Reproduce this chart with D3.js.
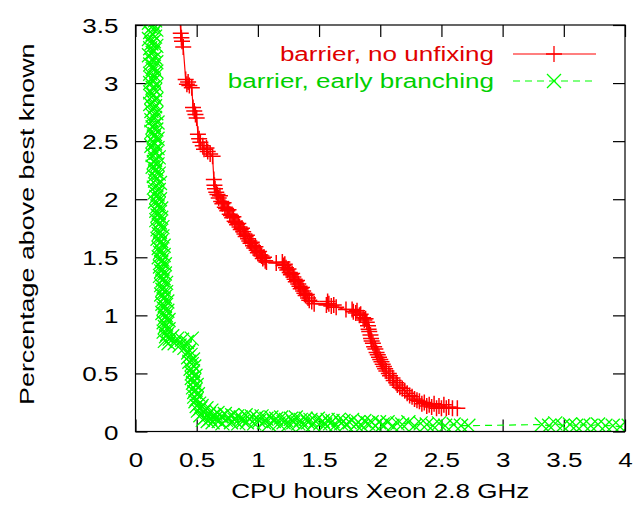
<!DOCTYPE html>
<html>
<head>
<meta charset="utf-8">
<script src="https://cdn.jsdelivr.net/npm/d3@7"></script>
<style>
  body { margin: 0; background: #fff; }
  text { font-family: "Liberation Sans", Arial, sans-serif; }
</style>
</head>
<body>
<div id="chart"></div>
<script>
// Chart data
const xTicks = [0, 0.5, 1, 1.5, 2, 2.5, 3, 3.5, 4];
const yTicks = [0, 0.5, 1, 1.5, 2, 2.5, 3, 3.5];
const seriesNames = ["barrier, no unfixing", "barrier, early branching"];
const seriesColors = ["#ff0000", "#00ff00"];

// barrier, no unfixing
const redX = [0.36, 0.37, 0.375, 0.38, 0.39, 0.41, 0.42, 0.43, 0.44, 0.46,
  0.47, 0.48, 0.49, 0.50, 0.51, 0.52, 0.53, 0.55, 0.56, 0.58,
  0.59, 0.61, 0.63, 0.64, 0.645, 0.65, 0.66, 0.67, 0.68, 0.69,
  0.70, 0.71, 0.72, 0.73, 0.74, 0.75, 0.76, 0.77, 0.78, 0.79,
  0.80, 0.81, 0.82, 0.83, 0.84, 0.85, 0.86, 0.87, 0.88, 0.89,
  0.90, 0.91, 0.92, 0.93, 0.94, 0.95, 0.96, 0.97, 0.98, 0.99,
  1.00, 1.01, 1.02, 1.03, 1.04, 1.05, 1.06, 1.07, 1.15, 1.20,
  1.21, 1.22, 1.23, 1.24, 1.25, 1.26, 1.27, 1.28, 1.29, 1.30,
  1.31, 1.32, 1.33, 1.34, 1.35, 1.36, 1.37, 1.38, 1.39, 1.40,
  1.41, 1.42, 1.44, 1.46, 1.56, 1.57, 1.58, 1.60, 1.62, 1.64,
  1.72, 1.77, 1.78, 1.80, 1.81, 1.83, 1.84, 1.86, 1.87, 1.88,
  1.89, 1.90, 1.905, 1.91, 1.92, 1.925, 1.93, 1.94, 1.95, 1.96,
  1.97, 1.98, 1.99, 2.00, 2.01, 2.02, 2.03, 2.04, 2.05, 2.07,
  2.08, 2.10, 2.11, 2.13, 2.14, 2.16, 2.18, 2.20, 2.22, 2.24,
  2.26, 2.28, 2.30, 2.32, 2.34, 2.36, 2.38, 2.40, 2.42, 2.44,
  2.46, 2.48, 2.50, 2.52, 2.54, 2.56, 2.59, 2.63];
const redY = [3.60, 3.43, 3.39, 3.36, 3.31, 3.03, 2.99, 3.01, 2.98, 2.96,
  2.79, 2.76, 2.73, 2.70, 2.56, 2.52, 2.49, 2.46, 2.43, 2.44,
  2.41, 2.39, 2.37, 2.17, 2.12, 2.09, 2.06, 2.04, 2.01, 2.03,
  1.98, 1.96, 1.97, 1.93, 1.92, 1.90, 1.91, 1.87, 1.86, 1.84,
  1.85, 1.81, 1.80, 1.78, 1.79, 1.76, 1.74, 1.75, 1.72, 1.70,
  1.68, 1.69, 1.66, 1.64, 1.62, 1.63, 1.60, 1.58, 1.59, 1.56,
  1.54, 1.55, 1.52, 1.51, 1.49, 1.50, 1.47, 1.46, 1.45, 1.46,
  1.43, 1.44, 1.41, 1.39, 1.40, 1.37, 1.35, 1.36, 1.33, 1.31,
  1.29, 1.30, 1.27, 1.25, 1.23, 1.24, 1.21, 1.19, 1.17, 1.18,
  1.15, 1.13, 1.12, 1.10, 1.09, 1.12, 1.10, 1.08, 1.09, 1.07,
  1.05, 1.05, 1.03, 1.02, 1.04, 1.00, 1.01, 0.98, 0.96, 0.97,
  0.94, 0.91, 0.88, 0.86, 0.83, 0.80, 0.78, 0.76, 0.73, 0.71,
  0.68, 0.66, 0.64, 0.62, 0.60, 0.58, 0.56, 0.54, 0.52, 0.50,
  0.48, 0.46, 0.44, 0.42, 0.40, 0.38, 0.37, 0.35, 0.33, 0.31,
  0.30, 0.28, 0.27, 0.26, 0.24, 0.25, 0.22, 0.23, 0.21, 0.24,
  0.20, 0.22, 0.20, 0.23, 0.20, 0.21, 0.20, 0.20];

// barrier, early branching
const greenX = [0.12, 0.16, 0.11, 0.15, 0.13, 0.17, 0.12, 0.14, 0.16, 0.11,
  0.15, 0.13, 0.17, 0.12, 0.15, 0.14, 0.11, 0.16, 0.13, 0.17,
  0.12, 0.15, 0.14, 0.17, 0.12, 0.16, 0.13, 0.15, 0.12, 0.17,
  0.14, 0.16, 0.12, 0.15, 0.13, 0.17, 0.14, 0.12, 0.16, 0.15,
  0.13, 0.17, 0.14, 0.16, 0.13, 0.18, 0.15, 0.14, 0.17, 0.13,
  0.16, 0.15, 0.18, 0.14, 0.16, 0.13, 0.18, 0.15, 0.17, 0.14,
  0.19, 0.16, 0.15, 0.18, 0.14, 0.17, 0.16, 0.19, 0.15, 0.18,
  0.16, 0.20, 0.17, 0.15, 0.19, 0.16, 0.18, 0.17, 0.20, 0.16,
  0.19, 0.18, 0.21, 0.17, 0.19, 0.18, 0.21, 0.17, 0.20, 0.19,
  0.22, 0.18, 0.20, 0.19, 0.22, 0.18, 0.21, 0.20, 0.23, 0.19,
  0.21, 0.20, 0.23, 0.19, 0.22, 0.21, 0.24, 0.20, 0.22, 0.21,
  0.24, 0.20, 0.23, 0.22, 0.25, 0.21, 0.23, 0.22, 0.25, 0.21,
  0.24, 0.23, 0.26, 0.22, 0.24, 0.23, 0.26, 0.22, 0.25, 0.24,
  0.27, 0.23, 0.25, 0.24, 0.27, 0.23, 0.26, 0.25, 0.28, 0.24,
  0.27,
  0.30, 0.32, 0.34, 0.36, 0.38, 0.40, 0.42, 0.44, 0.46, 0.43,
  0.45, 0.43, 0.47, 0.44, 0.46, 0.48, 0.45, 0.47, 0.46, 0.49,
  0.46, 0.48, 0.47, 0.50, 0.47, 0.49, 0.48, 0.51, 0.48, 0.50,
  0.49, 0.52, 0.50, 0.53, 0.51,
  0.53, 0.54, 0.55, 0.56, 0.57, 0.58, 0.59, 0.60, 0.61, 0.62,
  0.63, 0.64, 0.65, 0.67, 0.68, 0.70, 0.71, 0.73, 0.74, 0.76,
  0.78, 0.79, 0.81, 0.83, 0.84, 0.86, 0.88, 0.90, 0.91, 0.93,
  0.95, 0.97, 0.99, 1.01, 1.03, 1.05, 1.07, 1.09, 1.11, 1.13,
  1.15, 1.17, 1.19, 1.21, 1.23, 1.25, 1.27, 1.29, 1.31, 1.33,
  1.35, 1.37, 1.39, 1.41, 1.43, 1.45, 1.47, 1.49, 1.51, 1.53,
  1.55, 1.57, 1.59, 1.61, 1.63, 1.66, 1.68, 1.70, 1.72, 1.75,
  1.77, 1.80, 1.82, 1.85, 1.87, 1.90, 1.93, 1.96, 1.99, 2.02,
  2.06, 2.10, 2.14, 2.18, 2.23, 2.28, 2.33, 2.38, 2.43, 2.48,
  2.53, 2.60, 2.66, 2.72,
  3.32, 3.38, 3.43, 3.49, 3.55, 3.60, 3.66, 3.72, 3.78, 3.84,
  3.90, 3.96, 4.03];
const greenY = [3.56, 3.54, 3.52, 3.50, 3.48, 3.46, 3.44, 3.42, 3.40, 3.38,
  3.36, 3.34, 3.32, 3.30, 3.28, 3.26, 3.24, 3.22, 3.20, 3.18,
  3.16, 3.14, 3.12, 3.10, 3.08, 3.06, 3.04, 3.02, 3.00, 2.98,
  2.96, 2.94, 2.92, 2.90, 2.88, 2.86, 2.84, 2.82, 2.80, 2.78,
  2.76, 2.74, 2.72, 2.70, 2.68, 2.66, 2.64, 2.62, 2.60, 2.58,
  2.56, 2.54, 2.52, 2.50, 2.48, 2.46, 2.44, 2.42, 2.40, 2.38,
  2.36, 2.34, 2.32, 2.30, 2.28, 2.26, 2.24, 2.22, 2.20, 2.18,
  2.16, 2.14, 2.12, 2.10, 2.08, 2.06, 2.04, 2.02, 2.00, 1.98,
  1.96, 1.94, 1.92, 1.90, 1.88, 1.86, 1.84, 1.82, 1.80, 1.78,
  1.76, 1.74, 1.72, 1.70, 1.68, 1.66, 1.64, 1.62, 1.60, 1.58,
  1.56, 1.54, 1.52, 1.50, 1.48, 1.46, 1.44, 1.42, 1.40, 1.38,
  1.36, 1.34, 1.32, 1.30, 1.28, 1.26, 1.24, 1.22, 1.20, 1.18,
  1.16, 1.14, 1.12, 1.10, 1.08, 1.06, 1.04, 1.02, 1.00, 0.98,
  0.96, 0.94, 0.92, 0.90, 0.88, 0.86, 0.84, 0.82, 0.80, 0.78,
  0.76,
  0.82, 0.76, 0.80, 0.74, 0.79, 0.72, 0.77, 0.70, 0.80, 0.68,
  0.66, 0.64, 0.62, 0.60, 0.58, 0.56, 0.54, 0.52, 0.50, 0.48,
  0.46, 0.44, 0.42, 0.40, 0.38, 0.36, 0.34, 0.32, 0.30, 0.28,
  0.26, 0.24, 0.22, 0.20, 0.18,
  0.14, 0.22, 0.10, 0.17, 0.12, 0.20, 0.09, 0.15, 0.11, 0.18,
  0.08, 0.14, 0.11, 0.16, 0.09, 0.13, 0.07, 0.15, 0.10, 0.12,
  0.08, 0.14, 0.10, 0.13, 0.07, 0.12, 0.09, 0.14, 0.08, 0.11,
  0.13, 0.07, 0.12, 0.09, 0.13, 0.08, 0.11, 0.06, 0.12, 0.09,
  0.11, 0.07, 0.12, 0.08, 0.10, 0.06, 0.11, 0.08, 0.12, 0.07,
  0.10, 0.06, 0.11, 0.08, 0.10, 0.06, 0.09, 0.11, 0.07, 0.09,
  0.06, 0.10, 0.07, 0.09, 0.05, 0.10, 0.07, 0.09, 0.06, 0.08,
  0.10, 0.06, 0.08, 0.05, 0.09, 0.07, 0.08, 0.05, 0.08, 0.06,
  0.08, 0.05, 0.07, 0.06, 0.08, 0.05, 0.07, 0.06, 0.05, 0.07,
  0.05, 0.06, 0.05, 0.05,
  0.06, 0.05, 0.07, 0.05, 0.06, 0.05, 0.06, 0.05, 0.06, 0.05,
  0.05, 0.04, 0.05];

const width = 638;
const height = 508;
const plot = { left: 135.5, right: 625, top: 25, bottom: 431.5 };
const stretch = 1.24; // the original font is drawn wide

const svg = d3.select("#chart")
  .append("svg")
  .attr("width", width)
  .attr("height", height);

const x = d3.scaleLinear().domain([0, 4]).range([plot.left, plot.right]);
const y = d3.scaleLinear().domain([0, 3.5]).range([plot.bottom, plot.top]);

// Axes with inward ticks on all four sides
const tickLen = 12;
const fmt = d => d3.format("")(d);

const xAxis = svg.append("g")
  .attr("transform", `translate(0,${plot.bottom})`)
  .call(d3.axisBottom(x).tickValues(xTicks).tickSizeInner(-tickLen).tickSizeOuter(0).tickFormat(fmt));
xAxis.selectAll("text")
  .attr("y", null).attr("dy", null)
  .attr("transform", `translate(0,35) scale(${stretch},1)`);

const yAxis = svg.append("g")
  .attr("transform", `translate(${plot.left},0)`)
  .call(d3.axisLeft(y).tickValues(yTicks).tickSizeInner(-tickLen).tickSizeOuter(0).tickFormat(fmt));
yAxis.selectAll("text")
  .attr("x", null).attr("dy", null)
  .attr("transform", `translate(-17,7.5) scale(${stretch},1)`);

svg.append("g")
  .attr("transform", `translate(0,${plot.top})`)
  .call(d3.axisTop(x).tickValues(xTicks).tickSizeInner(-tickLen).tickSizeOuter(0).tickFormat(""));
svg.append("g")
  .attr("transform", `translate(${plot.right},0)`)
  .call(d3.axisRight(y).tickValues(yTicks).tickSizeInner(-tickLen).tickSizeOuter(0).tickFormat(""));

svg.selectAll(".domain").remove();
svg.selectAll(".tick line").attr("stroke", "#000").attr("stroke-width", 1.2);
svg.selectAll(".tick text")
  .attr("font-size", 21)
  .attr("font-family", "'Liberation Sans', Arial, sans-serif")
  .attr("fill", "#000");

// Axis titles
svg.append("text")
  .attr("transform", `translate(${(plot.left + plot.right) / 2},498) scale(${stretch},1)`)
  .attr("text-anchor", "middle")
  .attr("font-size", 21)
  .text("CPU hours Xeon 2.8 GHz");

svg.append("text")
  .attr("transform", `translate(34,${(plot.top + plot.bottom) / 2 - 4}) rotate(-90) scale(1.28,1)`)
  .attr("text-anchor", "middle")
  .attr("font-size", 21)
  .text("Percentage above best known");

// Clip the data to the plot frame
svg.append("clipPath")
  .attr("id", "clip")
  .append("rect")
  .attr("x", plot.left).attr("y", plot.top)
  .attr("width", plot.right - plot.left)
  .attr("height", plot.bottom - plot.top);

const plusPath = "M-8,0H8M0,-8V8";
const crossPath = "M-7,-7L7,7M-7,7L7,-7";

const redData = redX.map((d, i) => [d, redY[i]]);
const greenData = greenX.map((d, i) => [d, greenY[i]]);
const line = d3.line().x(d => x(d[0])).y(d => y(d[1]));

const marks = svg.append("g").attr("clip-path", "url(#clip)");

marks.append("path")
  .datum(greenData)
  .attr("d", line)
  .attr("fill", "none")
  .attr("stroke", seriesColors[1])
  .attr("stroke-width", 1.2)
  .attr("stroke-dasharray", "7,5");

marks.append("g")
  .selectAll("path")
  .data(greenData)
  .enter().append("path")
  .attr("transform", d => `translate(${x(d[0])},${y(d[1])})`)
  .attr("d", crossPath)
  .attr("stroke", seriesColors[1])
  .attr("stroke-width", 1.3);

marks.append("path")
  .datum(redData)
  .attr("d", line)
  .attr("fill", "none")
  .attr("stroke", seriesColors[0])
  .attr("stroke-width", 1.2);

marks.append("g")
  .selectAll("path")
  .data(redData)
  .enter().append("path")
  .attr("transform", d => `translate(${x(d[0])},${y(d[1])})`)
  .attr("d", plusPath)
  .attr("stroke", seriesColors[0])
  .attr("stroke-width", 1.5);

// Frame
svg.append("rect")
  .attr("x", plot.left).attr("y", plot.top)
  .attr("width", plot.right - plot.left)
  .attr("height", plot.bottom - plot.top)
  .attr("fill", "none")
  .attr("stroke", "#000")
  .attr("stroke-width", 1.2);

// Legend
const legendRows = [54, 81];
const legend = svg.append("g");
seriesNames.forEach((name, i) => {
  const ly = legendRows[i];
  legend.append("text")
    .attr("transform", `translate(494,${ly + 7}) scale(${stretch},1)`)
    .attr("text-anchor", "end")
    .attr("font-size", 21)
    .attr("fill", i === 0 ? "#e00000" : "#00d000")
    .text(name);
  legend.append("line")
    .attr("x1", 513).attr("x2", 596)
    .attr("y1", ly).attr("y2", ly)
    .attr("stroke", seriesColors[i])
    .attr("stroke-width", 1.2)
    .attr("stroke-dasharray", i === 0 ? null : "7,5");
  legend.append("path")
    .attr("transform", `translate(554,${ly})`)
    .attr("d", i === 0 ? plusPath : crossPath)
    .attr("stroke", seriesColors[i])
    .attr("stroke-width", 1.3);
});
</script>
</body>
</html>
